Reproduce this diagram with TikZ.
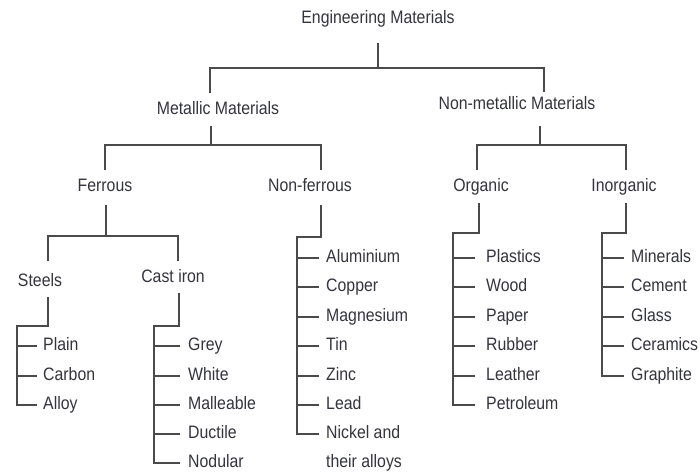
\documentclass[tikz,border=0pt]{standalone}
\usepackage{fontspec}
\setmainfont{Liberation Sans}[FakeStretch=0.88]
\usetikzlibrary{calc}
\definecolor{txt}{HTML}{34343E}
\definecolor{ln}{HTML}{4A4A4A}
\begin{document}
\begin{tikzpicture}[x=1pt,y=-1pt,
  lbl/.style={font=\fontsize{18}{21}\selectfont, text=txt, inner sep=0pt, text height=11pt, text depth=3pt},
  leaf/.style={lbl, anchor=west},
  conn/.style={draw=ln, line width=1.7pt},
]
\useasboundingbox (0,0) rectangle (700,473);
\fill[white] (0,0) rectangle (700,473);

% inner nodes
\node[lbl] (EM) at (378,20) {Engineering Materials};
\node[lbl] (MM) at (218,111) {Metallic Materials};
\node[lbl] (NM) at (517,106) {Non-metallic Materials};
\node[lbl] (Fe) at (105,187) {Ferrous};
\node[lbl] (NF) at (310,187) {Non-ferrous};
\node[lbl] (Org) at (481,187) {Organic};
\node[lbl] (Inorg) at (624,187) {Inorganic};
\node[lbl] (St) at (40,282) {Steels};
\node[lbl] (CI) at (173,278) {Cast iron};

% leaves
\node[leaf] (Plain) at (43,346) {Plain};
\node[leaf] (Carbon) at (43,376) {Carbon};
\node[leaf] (Alloy) at (43,405) {Alloy};

\node[leaf] (Grey) at (188,346) {Grey};
\node[leaf] (White) at (188,376) {White};
\node[leaf] (Mall) at (188,405) {Malleable};
\node[leaf] (Duct) at (188,434) {Ductile};
\node[leaf] (Nod) at (188,463) {Nodular};

\node[leaf] (Al) at (326,258) {Aluminium};
\node[leaf] (Cu) at (326,287) {Copper};
\node[leaf] (Mg) at (326,317) {Magnesium};
\node[leaf] (Sn) at (326,346) {Tin};
\node[leaf] (Zn) at (326,376) {Zinc};
\node[leaf] (Pb) at (326,405) {Lead};
\node[leaf] (Ni) at (326,434) {Nickel and};
\node[leaf] (Ni2) at (326,463) {their alloys};

\node[leaf] (Pla) at (486,258) {Plastics};
\node[leaf] (Wood) at (486,287) {Wood};
\node[leaf] (Pap) at (486,317) {Paper};
\node[leaf] (Rub) at (486,346) {Rubber};
\node[leaf] (Lea) at (486,376) {Leather};
\node[leaf] (Pet) at (486,405) {Petroleum};

\node[leaf] (Min) at (631,258) {Minerals};
\node[leaf] (Cem) at (631,287) {Cement};
\node[leaf] (Gla) at (631,317) {Glass};
\node[leaf] (Cer) at (631,346) {Ceramics};
\node[leaf] (Gra) at (631,376) {Graphite};

% upper levels
\draw[conn] (EM.center) ++(0,23) -- ++(0,25) coordinate (emj);
\draw[conn] (emj) -| ($(MM)+(-8,-18)$);
\draw[conn] (emj) -| ($(NM)+(27,-14)$);

\draw[conn] (MM.center) ++(-7,15) -- ++(0,19) coordinate (mmj);
\draw[conn] (mmj) -| ($(Fe)+(0,-17)$);
\draw[conn] (mmj) -| ($(NF)+(11,-17)$);

\draw[conn] (NM.center) ++(23,20) -- ++(0,19) coordinate (nmj);
\draw[conn] (nmj) -| ($(Org)+(-4,-17)$);
\draw[conn] (nmj) -| ($(Inorg)+(2,-17)$);

\draw[conn] (Fe.center) ++(1,18) -- ++(0,31) coordinate (fej);
\draw[conn] (fej) -| ($(St)+(8,-21)$);
\draw[conn] (fej) -| ($(CI)+(5,-17)$);

% Steels
\draw[conn, shorten >=6pt] (St.center) ++(8,15) -- ++(0,29) -- ++(-31,0) coordinate (sts) -- (sts |- Alloy.west) -- (Alloy.west);
\foreach \n in {Plain,Carbon} \draw[conn, shorten >=6pt] (sts |- \n.west) -- (\n.west);

% Cast iron
\draw[conn, shorten >=8pt] (CI.center) ++(6,15) -- ++(0,33) -- ++(-25,0) coordinate (cis) -- (cis |- Nod.west) -- (Nod.west);
\foreach \n in {Grey,White,Mall,Duct} \draw[conn, shorten >=8pt] (cis |- \n.west) -- (\n.west);

% Non-ferrous
\draw[conn, shorten >=7pt] (NF.center) ++(11,18) -- ++(0,32) -- ++(-24,0) coordinate (nfs) -- (nfs |- Ni.west) -- (Ni.west);
\foreach \n in {Al,Cu,Mg,Sn,Zn,Pb} \draw[conn, shorten >=7pt] (nfs |- \n.west) -- (\n.west);

% Organic
\draw[conn, shorten >=11pt] (Org.center) ++(-2,16) -- ++(0,30) -- ++(-26,0) coordinate (ors) -- (ors |- Pet.west) -- (Pet.west);
\foreach \n in {Pla,Wood,Pap,Rub,Lea} \draw[conn, shorten >=11pt] (ors |- \n.west) -- (\n.west);

% Inorganic
\draw[conn, shorten >=7pt] (Inorg.center) ++(2,16) -- ++(0,30) -- ++(-24,0) coordinate (ins) -- (ins |- Gra.west) -- (Gra.west);
\foreach \n in {Min,Cem,Gla,Cer} \draw[conn, shorten >=7pt] (ins |- \n.west) -- (\n.west);
\end{tikzpicture}
\end{document}
